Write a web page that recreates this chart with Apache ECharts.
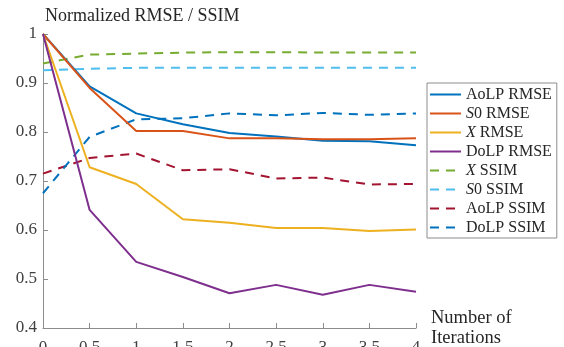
<!DOCTYPE html>
<html><head><meta charset="utf-8">
<script src="https://cdn.jsdelivr.net/npm/echarts@6/dist/echarts.min.js"></script>
<style>html,body{margin:0;padding:0;background:#fff}#c{width:564px;height:347px}</style>
</head><body><div id="c"></div>
<script>
const iterations = [0, 0.5, 1, 1.5, 2, 2.5, 3, 3.5, 4];
const aolpRmse = [1.0, 0.893, 0.838, 0.816, 0.798, 0.791, 0.782, 0.781, 0.773];
const s0Rmse   = [1.0, 0.890, 0.802, 0.802, 0.787, 0.787, 0.785, 0.785, 0.787];
const xRmse    = [1.0, 0.728, 0.694, 0.622, 0.615, 0.604, 0.604, 0.598, 0.601];
const dolpRmse = [1.0, 0.641, 0.535, 0.504, 0.471, 0.488, 0.468, 0.488, 0.474];
const xSsim    = [0.940, 0.958, 0.960, 0.962, 0.963, 0.963, 0.962, 0.962, 0.962];
const s0Ssim   = [0.926, 0.929, 0.931, 0.931, 0.931, 0.931, 0.931, 0.931, 0.931];
const aolpSsim = [0.715, 0.747, 0.756, 0.722, 0.724, 0.705, 0.707, 0.693, 0.694];
const dolpSsim = [0.675, 0.790, 0.826, 0.828, 0.838, 0.834, 0.839, 0.835, 0.838];
const xTicks = [0, 0.5, 1, 1.5, 2, 2.5, 3, 3.5, 4];
const yTicks = [0.4, 0.5, 0.6, 0.7, 0.8, 0.9, 1];

const seriesDefs = [
  {name: 'AoLP RMSE', data: aolpRmse, color: '#0072BD', dash: false},
  {name: 'S0 RMSE', data: s0Rmse, color: '#D95319', dash: false},
  {name: 'X RMSE', data: xRmse, color: '#EDB120', dash: false},
  {name: 'DoLP RMSE', data: dolpRmse, color: '#7E2F8E', dash: false},
  {name: 'X SSIM', data: xSsim, color: '#77AC30', dash: true},
  {name: 'S0 SSIM', data: s0Ssim, color: '#4DBEEE', dash: true},
  {name: 'AoLP SSIM', data: aolpSsim, color: '#A2142F', dash: true},
  {name: 'DoLP SSIM', data: dolpSsim, color: '#0072BD', dash: true}
];
const FONT = '"Liberation Serif", "DejaVu Serif", serif';
const TXT = '#262626';
const chart = echarts.init(document.getElementById('c'));
chart.setOption({
  animation: false,
  textStyle: {fontFamily: FONT},
  title: {text: 'Normalized RMSE / SSIM', left: 40, top: 2,
    textStyle: {fontFamily: FONT, fontSize: 18, fontWeight: 'normal', color: TXT}},
  grid: {left: 43, right: 148, top: 34, bottom: 19, containLabel: false, outerBoundsMode: 'none'},
  legend: {
    orient: 'vertical', left: 427, top: 83, itemWidth: 31, itemHeight: 10, itemGap: 2,
    borderColor: '#8c8c8c', borderWidth: 1, padding: [3, 5, 2, 2], backgroundColor: '#fff',
    itemStyle: {opacity: 0},
    textStyle: {fontFamily: FONT, fontSize: 16, color: TXT, lineHeight: 17,
      rich: {i: {fontStyle: 'italic', fontFamily: FONT, fontSize: 16, color: TXT, lineHeight: 17}}},
    formatter: function (n) {
      if (n.startsWith('S0 ')) return '{i|S}0 ' + n.slice(3);
      if (n.startsWith('X ')) return '{i|X} ' + n.slice(2);
      return n;
    },
    data: seriesDefs.map(s => s.name)
  },
  xAxis: {
    type: 'value', min: 0, max: 4, interval: 0.5,
    name: 'Number of\nIterations', nameLocation: 'end', nameGap: 15,
    nameTextStyle: {fontFamily: FONT, fontSize: 18.5, color: TXT, align: 'left', lineHeight: 20},
    axisLine: {lineStyle: {color: '#8c8c8c', width: 1}},
    axisTick: {inside: true, length: 5, lineStyle: {color: '#8c8c8c'}},
    axisLabel: {fontFamily: FONT, fontSize: 17, color: '#404040', margin: 11,
      formatter: v => xTicks.includes(v) ? String(v) : ''},
    splitLine: {show: false}
  },
  yAxis: {
    type: 'value', min: 0.4, max: 1, interval: 0.1,
    axisLine: {show: true, lineStyle: {color: '#8c8c8c', width: 1}},
    axisTick: {show: true, inside: true, length: 5, lineStyle: {color: '#8c8c8c'}},
    axisLabel: {fontFamily: FONT, fontSize: 17, color: '#404040', margin: 6,
      formatter: v => { const r = Math.round(v * 10) / 10; return yTicks.includes(r) ? String(r) : ''; }},
    splitLine: {show: false}
  },
  series: seriesDefs.map(s => ({
    name: s.name, type: 'line', showSymbol: false, symbol: 'none',
    data: iterations.map((x, i) => [x, s.data[i]]),
    itemStyle: {color: s.color},
    lineStyle: {color: s.color, width: 2, type: s.dash ? [9, 7] : 'solid'},
    z: s.dash ? 2 : 3
  }))
});
</script></body></html>
